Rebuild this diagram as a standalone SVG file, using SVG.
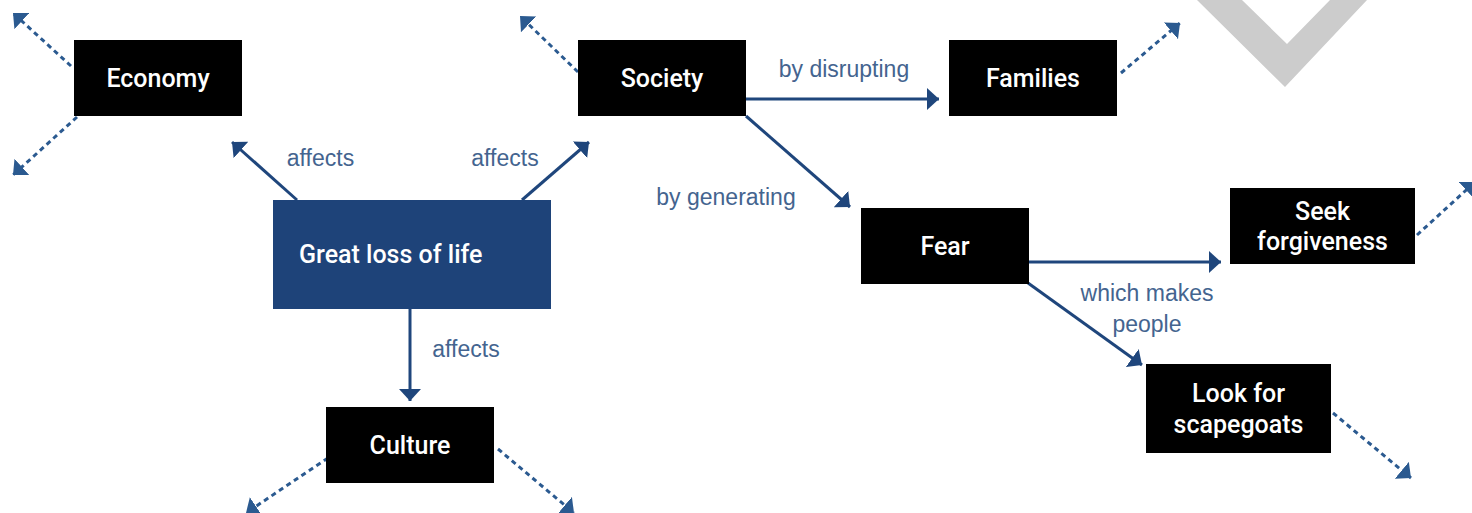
<svg xmlns="http://www.w3.org/2000/svg" width="1472" height="513" viewBox="0 0 1472 513">
  <style>
    .box { fill: #000000; }
    .main { fill: #1e4379; }
    .ntext { font-family: Roboto, "Liberation Sans", Arial, sans-serif; font-size: 25px; font-weight: 500; fill: #ffffff; text-anchor: middle; }
    .label { font-family: "Liberation Sans", Arial, sans-serif; font-size: 23px; fill: #44648f; text-anchor: middle; }
    .link { fill: none; stroke: #1f467c; stroke-width: 3; marker-end: url(#arrow); }
    .more { fill: none; stroke: #2b5a90; stroke-width: 3; stroke-dasharray: 5 4; marker-end: url(#arrow-more); }
  </style>
  <defs>
    <marker id="arrow" markerUnits="userSpaceOnUse" viewBox="0 0 12 22" refX="12" refY="11" markerWidth="12" markerHeight="22" orient="auto">
      <path d="M0,0 L12,11 L0,22 z" fill="#1f467c"/>
    </marker>
    <marker id="arrow-more" markerUnits="userSpaceOnUse" viewBox="0 0 12 22" refX="12" refY="11" markerWidth="12" markerHeight="22" orient="auto">
      <path d="M0,0 L12,11 L0,22 z" fill="#2b5a90"/>
    </marker>
  </defs>

  <rect width="1472" height="513" fill="#ffffff"/>

  <!-- grey chevron mark, top right -->
  <polygon points="1197,0 1285,87 1367,0 1330,0 1287,44 1242,0" fill="#cccccc"/>

  <g id="connectors">
    <!-- solid relations -->
    <line class="link" x1="297" y1="200" x2="232" y2="142"/>
    <line class="link" x1="522" y1="200" x2="589" y2="142"/>
    <line class="link" x1="410" y1="309" x2="410" y2="401"/>
    <line class="link" x1="746" y1="99" x2="939" y2="99"/>
    <line class="link" x1="746" y1="116" x2="850" y2="207"/>
    <line class="link" x1="1029" y1="262" x2="1221" y2="262"/>
    <line class="link" x1="1028" y1="283" x2="1142" y2="365"/>
    <!-- dotted continuations -->
    <line class="more" x1="71" y1="66" x2="13" y2="13"/>
    <line class="more" x1="77" y1="117" x2="13" y2="175"/>
    <line class="more" x1="578" y1="72" x2="520" y2="16"/>
    <line class="more" x1="1121" y1="73" x2="1180" y2="23"/>
    <line class="more" x1="1417" y1="235" x2="1475" y2="182"/>
    <line class="more" x1="328" y1="458" x2="246" y2="513"/>
    <line class="more" x1="498" y1="449" x2="574" y2="513"/>
    <line class="more" x1="1333" y1="413" x2="1411" y2="478"/>
  </g>

  <g id="connector-labels">
    <text class="label" x="320.5" y="166">affects</text>
    <text class="label" x="505" y="166">affects</text>
    <text class="label" x="466" y="357">affects</text>
    <text class="label" x="844" y="77">by disrupting</text>
    <text class="label" x="726" y="205">by generating</text>
    <text class="label" x="1147" y="301">which makes</text>
    <text class="label" x="1147" y="332">people</text>
  </g>

  <g id="economy">
    <rect class="box" x="74" y="40" width="168" height="76"/>
    <text class="ntext" x="158" y="87">Economy</text>
  </g>
  <g id="society">
    <rect class="box" x="578" y="40" width="168" height="76"/>
    <text class="ntext" x="662" y="87">Society</text>
  </g>
  <g id="families">
    <rect class="box" x="949" y="40" width="168" height="76"/>
    <text class="ntext" x="1033" y="87">Families</text>
  </g>
  <g id="great-loss-of-life">
    <rect class="main" x="273" y="200" width="278" height="109"/>
    <text class="ntext" x="299" y="263" style="text-anchor: start">Great loss of life</text>
  </g>
  <g id="culture">
    <rect class="box" x="326" y="407" width="168" height="76"/>
    <text class="ntext" x="410" y="454">Culture</text>
  </g>
  <g id="fear">
    <rect class="box" x="861" y="208" width="168" height="76"/>
    <text class="ntext" x="945" y="255">Fear</text>
  </g>
  <g id="seek-forgiveness">
    <rect class="box" x="1230" y="188" width="185" height="76"/>
    <text class="ntext" x="1322.5" y="220">Seek</text>
    <text class="ntext" x="1322.5" y="250">forgiveness</text>
  </g>
  <g id="look-for-scapegoats">
    <rect class="box" x="1146" y="364" width="185" height="89"/>
    <text class="ntext" x="1238.5" y="402">Look for</text>
    <text class="ntext" x="1238.5" y="433">scapegoats</text>
  </g>
</svg>
